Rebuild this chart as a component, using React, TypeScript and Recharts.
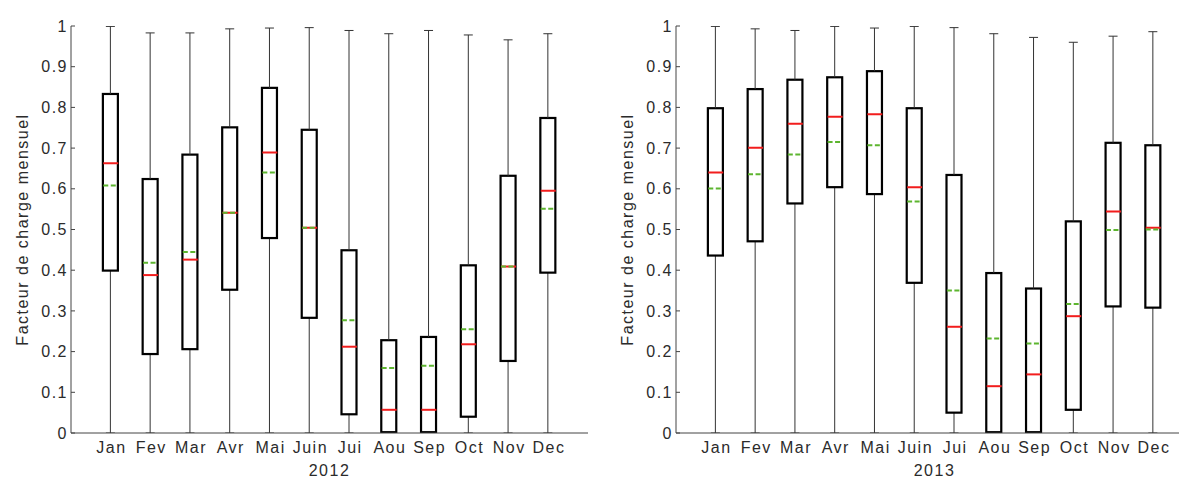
import React from 'react';
import { ComposedChart, Bar, Line, XAxis, YAxis, Label } from 'recharts';

const months = ['Jan', 'Fev', 'Mar', 'Avr', 'Mai', 'Juin', 'Jui', 'Aou', 'Sep', 'Oct', 'Nov', 'Dec'];
const yTicks = [0, 0.1, 0.2, 0.3, 0.4, 0.5, 0.6, 0.7, 0.8, 0.9, 1];

const min2012 = [0, 0, 0, 0, 0, 0, 0, 0, 0, 0, 0, 0];
const q1_2012 = [0.399, 0.194, 0.206, 0.352, 0.479, 0.283, 0.046, 0.002, 0.002, 0.040, 0.177, 0.394];
const median2012 = [0.663, 0.388, 0.426, 0.541, 0.689, 0.504, 0.212, 0.057, 0.057, 0.218, 0.409, 0.595];
const mean2012 = [0.608, 0.418, 0.445, 0.541, 0.640, 0.504, 0.277, 0.160, 0.165, 0.255, 0.409, 0.551];
const q3_2012 = [0.833, 0.624, 0.684, 0.751, 0.848, 0.745, 0.449, 0.228, 0.236, 0.412, 0.632, 0.774];
const max2012 = [0.999, 0.983, 0.983, 0.993, 0.995, 0.996, 0.989, 0.981, 0.989, 0.978, 0.966, 0.981];

const min2013 = [0, 0, 0, 0, 0, 0, 0, 0, 0, 0, 0, 0];
const q1_2013 = [0.436, 0.471, 0.564, 0.604, 0.587, 0.369, 0.050, 0.002, 0.002, 0.057, 0.311, 0.308];
const median2013 = [0.640, 0.701, 0.760, 0.777, 0.783, 0.604, 0.261, 0.115, 0.144, 0.287, 0.544, 0.504];
const mean2013 = [0.601, 0.636, 0.684, 0.715, 0.707, 0.569, 0.350, 0.232, 0.220, 0.317, 0.499, 0.500];
const q3_2013 = [0.798, 0.845, 0.868, 0.874, 0.889, 0.798, 0.634, 0.393, 0.355, 0.520, 0.713, 0.707];
const max2013 = [0.999, 0.993, 0.989, 0.999, 0.995, 0.999, 0.996, 0.981, 0.972, 0.960, 0.975, 0.986];

const FONT = '"Liberation Sans", Arial, sans-serif';
const FS = 16;
const TEXT = '#2b2b2b';
const AXIS = '#444';
const TXT_STYLE = { letterSpacing: '1.5px' };

function buildRows(mn: number[], q1: number[], med: number[], mean: number[], q3: number[], mx: number[]) {
  return months.map((m, i) => ({
    month: m,
    base: mn[i],
    lower: q1[i] - mn[i],
    box: q3[i] - q1[i],
    upper: mx[i] - q3[i],
    median: med[i],
    mean: mean[i],
  }));
}

const data2012 = buildRows(min2012, q1_2012, median2012, mean2012, q3_2012, max2012);
const data2013 = buildRows(min2013, q1_2013, median2013, mean2013, q3_2013, max2013);

const LowerWhisker = (p: any) => {
  const cx = p.x + p.width / 2;
  return (
    <g>
      <line x1={cx} x2={cx} y1={p.y} y2={p.y + p.height} stroke="#333" strokeWidth={1} />
      <line x1={cx - 4.5} x2={cx + 4.5} y1={p.y + p.height} y2={p.y + p.height} stroke="#333" strokeWidth={1} />
    </g>
  );
};

const UpperWhisker = (p: any) => {
  const cx = p.x + p.width / 2;
  return (
    <g>
      <line x1={cx} x2={cx} y1={p.y} y2={p.y + p.height} stroke="#333" strokeWidth={1} />
      <line x1={cx - 4.5} x2={cx + 4.5} y1={p.y} y2={p.y} stroke="#333" strokeWidth={1} />
    </g>
  );
};

const BoxShape = (p: any) => (
  <rect x={p.x} y={p.y} width={p.width} height={p.height} fill="#fff" stroke="#000" strokeWidth={2.2} />
);

const MedianDot = (p: any) => (
  <line key={`med-${p.index}`} x1={p.cx - 7.5} x2={p.cx + 7.5} y1={p.cy} y2={p.cy} stroke="#f21d1d" strokeWidth={2} />
);

const MeanDot = (p: any) => (
  <line key={`mean-${p.index}`} x1={p.cx - 7.5} x2={p.cx + 7.5} y1={p.cy} y2={p.cy} stroke="#5db52f" strokeWidth={2} strokeDasharray="5 2.5" />
);

const YTick = (p: any) => {
  const v = p.payload.value;
  return (
    <g>
      <line x1={p.x} x2={p.x + 4} y1={p.y} y2={p.y} stroke={AXIS} strokeWidth={1} />
      <text x={p.x - 3} y={p.y + 5.6} textAnchor="end" fontSize={FS} fontFamily={FONT} fill={TEXT} style={TXT_STYLE}>
        {String(v)}
      </text>
    </g>
  );
};

const XTick = (p: any) => (
  <text x={p.x + 0.75} y={p.y + 19.5} textAnchor="middle" fontSize={FS} fontFamily={FONT} fill={TEXT} style={TXT_STYLE}>
    {p.payload.value}
  </text>
);

const W = 600;
const H = 480;
const TOP = 26;
const YW = 71;
const XH = 47;
const RIGHT = 12;
const PLOT_W = W - YW - RIGHT;
const PAD = PLOT_W / 26;

function Panel({ data, year }: { data: any[]; year: string }) {
  const yLabel = () => {
    const cy = TOP + (H - TOP - XH) / 2;
    const bx = 27.5;
    return (
      <text x={bx} y={cy} transform={`rotate(-90 ${bx} ${cy})`} textAnchor="middle" fontSize={FS} fontFamily={FONT} fill={TEXT} style={TXT_STYLE}>
        Facteur de charge mensuel
      </text>
    );
  };
  const xLabel = () => (
    <text x={YW + PLOT_W / 2} y={H - 4} textAnchor="middle" fontSize={FS} fontFamily={FONT} fill={TEXT} style={TXT_STYLE}>
      {year}
    </text>
  );
  return (
    <ComposedChart width={W} height={H} data={data} margin={{ top: TOP, right: RIGHT, left: 0, bottom: 0 }}>
      <XAxis
        dataKey="month"
        type="category"
        height={XH}
        padding={{ left: PAD, right: PAD }}
        axisLine={{ stroke: AXIS, strokeWidth: 1 }}
        tickLine={false}
        tickSize={0}
        tickMargin={0}
        interval={0}
        tick={<XTick />}
      >
        <Label content={xLabel} />
      </XAxis>
      <YAxis
        type="number"
        domain={[0, 1]}
        ticks={yTicks}
        interval={0}
        width={YW}
        allowDataOverflow
        axisLine={{ stroke: AXIS, strokeWidth: 1 }}
        tickLine={false}
        tickSize={0}
        tickMargin={0}
        tick={<YTick />}
      >
        <Label content={yLabel} />
      </YAxis>
      <Bar dataKey="base" stackId="s" fill="none" barSize={15} isAnimationActive={false} />
      <Bar dataKey="lower" stackId="s" barSize={15} shape={<LowerWhisker />} isAnimationActive={false} />
      <Bar dataKey="box" stackId="s" barSize={15} shape={<BoxShape />} isAnimationActive={false} />
      <Bar dataKey="upper" stackId="s" barSize={15} shape={<UpperWhisker />} isAnimationActive={false} />
      <Line dataKey="median" stroke="none" dot={MedianDot} activeDot={false} isAnimationActive={false} />
      <Line dataKey="mean" stroke="none" dot={MeanDot} activeDot={false} isAnimationActive={false} />
    </ComposedChart>
  );
}

export default function App() {
  return (
    <div style={{ position: 'absolute', left: 0, top: 0, width: 1179, height: 480, overflow: 'hidden', background: '#fff' }}>
      <div style={{ position: 'absolute', left: 0, top: 0 }}>
        <Panel data={data2012} year="2012" />
      </div>
      <div style={{ position: 'absolute', left: 605, top: 0 }}>
        <Panel data={data2013} year="2013" />
      </div>
    </div>
  );
}
